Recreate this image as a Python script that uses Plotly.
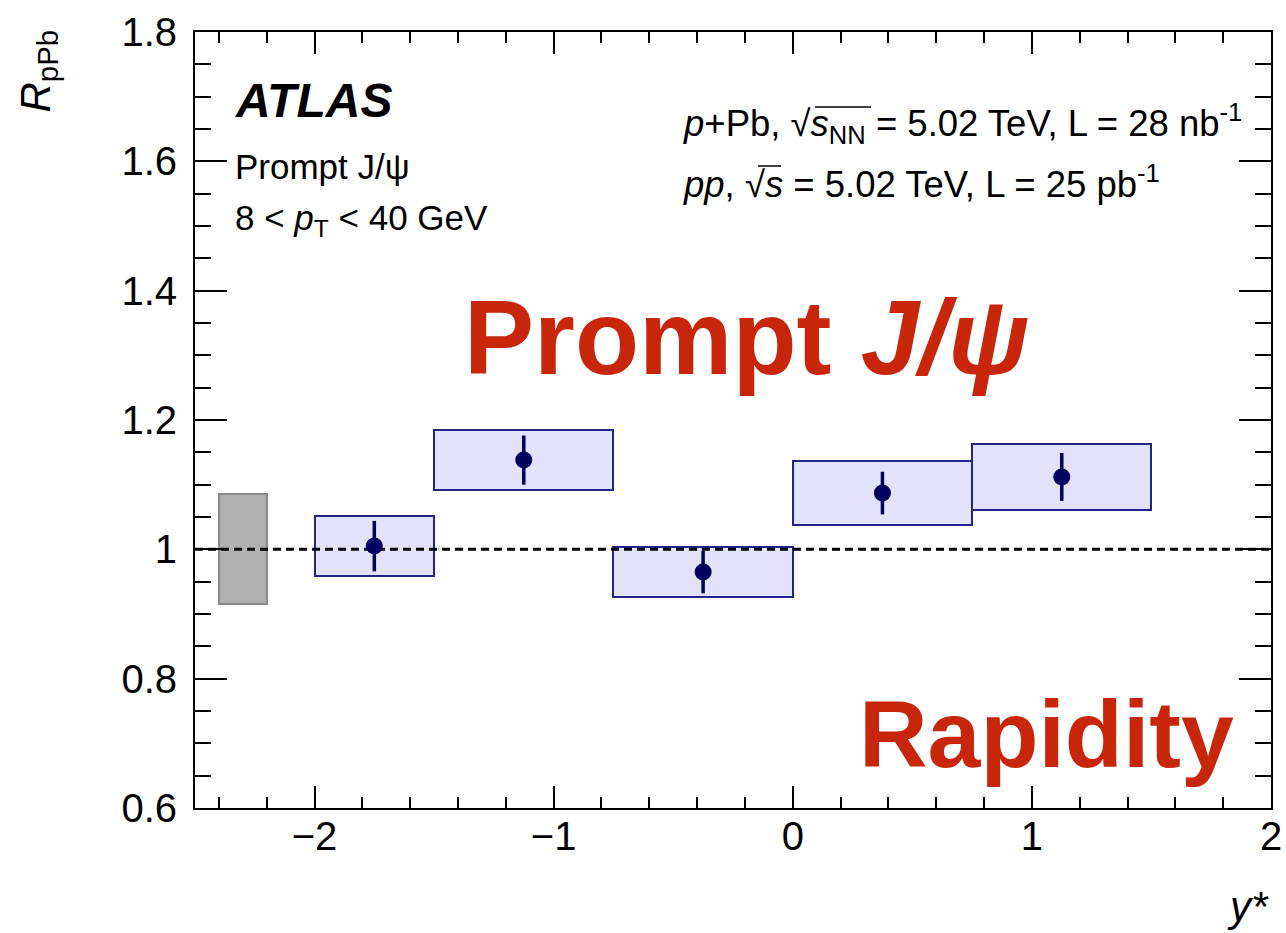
import plotly.graph_objects as go

# R_pPb of prompt J/psi versus centre-of-mass rapidity y*, 8 < pT < 40 GeV
bin_lo = [-2.0, -1.5, -0.75, 0.0, 0.75]
bin_hi = [-1.5, -0.75, 0.0, 0.75, 1.5]
r_ppb = [1.005, 1.138, 0.965, 1.087, 1.112]
stat_err = [0.039, 0.038, 0.033, 0.033, 0.037]
syst_err = [0.046, 0.046, 0.038, 0.050, 0.051]
global_unc = 0.085          # normalisation uncertainty, shown as grey band at unity

FONT = "Liberation Sans, Arial, Helvetica, sans-serif"
NAVY = "#00005e"
BOX_LINE = "#23238a"
BOX_FILL = "#e2e2fb"
RED = "#c8260b"

W, H = 1286, 933
L, R, T, B = 195, 15, 32, 125
PW, PH = W - L - R, H - T - B


def xp(px):
    return (px - L) / PW


def yp(py):
    return (H - B - py) / PH


centers = [(a + b) / 2 for a, b in zip(bin_lo, bin_hi)]
widths = [b - a for a, b in zip(bin_lo, bin_hi)]
box_base = [v - s for v, s in zip(r_ppb, syst_err)]
box_height = [2 * s for s in syst_err]

fig = go.Figure()

# global normalisation uncertainty
fig.add_trace(go.Bar(
    x=[-2.3], width=[0.2], base=[1 - global_unc], y=[2 * global_unc],
    marker=dict(color="#b0b0b0", line=dict(color="#8a8a8a", width=2)),
    showlegend=False, hoverinfo="skip",
))

# systematic uncertainty boxes
fig.add_trace(go.Bar(
    x=centers, width=widths, base=box_base, y=box_height,
    marker=dict(color=BOX_FILL, line=dict(color=BOX_LINE, width=2)),
    showlegend=False, hoverinfo="skip",
))

# unity reference line
fig.add_trace(go.Scatter(
    x=[-2.5, 2.0], y=[1.0, 1.0], mode="lines",
    line=dict(color="black", width=3, dash="8px,5px"),
    showlegend=False, hoverinfo="skip",
))

# data points with statistical errors
fig.add_trace(go.Scatter(
    x=centers, y=r_ppb, mode="markers",
    marker=dict(color=NAVY, size=17),
    error_y=dict(type="data", array=stat_err, thickness=3.5, width=0, color=NAVY),
    showlegend=False,
))

axis_common = dict(
    showgrid=False, zeroline=False, showline=True, linecolor="black", linewidth=2,
    mirror="allticks", ticks="inside", tickcolor="black", tickwidth=2,
    tickfont=dict(family=FONT, size=40, color="black"), automargin=False,
)

fig.update_xaxes(
    range=[-2.5, 2.0], ticklen=22,
    tickvals=[-2, -1, 0, 1, 2], ticktext=["\u22122", "\u22121", "0", "1", "2"],
    minor=dict(dtick=0.2, tick0=0, ticklen=11, ticks="inside", tickcolor="black", tickwidth=2),
    ticklabelstandoff=-8,
    **axis_common,
)
fig.update_yaxes(
    range=[0.6, 1.8], ticklen=32,
    tickvals=[0.6, 0.8, 1.0, 1.2, 1.4, 1.6, 1.8],
    ticktext=["0.6", "0.8", "1", "1.2", "1.4", "1.6", "1.8"],
    minor=dict(dtick=0.05, tick0=0, ticklen=16, ticks="inside", tickcolor="black", tickwidth=2),
    ticklabelstandoff=8,
    **axis_common,
)


def note(text, px, py, size, xanchor="left", color="black", angle=0, yanchor="middle"):
    fig.add_annotation(
        text=text, x=xp(px), y=yp(py), xref="paper", yref="paper",
        xanchor=xanchor, yanchor=yanchor, showarrow=False, textangle=angle,
        font=dict(family=FONT, size=size, color=color),
    )


def vinculum(x0, x1, py):
    # bar over the radicand of a square-root sign
    fig.add_shape(type="line", xref="paper", yref="paper",
                  x0=xp(x0), x1=xp(x1), y0=yp(py), y1=yp(py),
                  line=dict(color="black", width=1.5))


# axis titles
note("<i>R</i><sub>pPb</sub>", 38, 28, 42, xanchor="center", angle=-90, yanchor="top")
note("<i>y*</i>", 1271, 906, 42, xanchor="right")

# labels
note("<b><i>ATLAS</i></b>", 233, 100, 48)
note("Prompt J/\u03c8", 233, 166, 35)
note("8 < <i>p</i><sub>T</sub> < 40 GeV", 233, 220, 35)
note("<i>p</i>+Pb, \u221a<i>s</i><sub>NN</sub> = 5.02 TeV, L = 28 nb<sup>-1</sup>", 681, 123, 36.5)
note("<i>pp</i>, \u221a<i>s</i> = 5.02 TeV, L = 25 pb<sup>-1</sup>", 681, 182, 36.5)
vinculum(815, 871, 107)
vinculum(758, 781, 166)

note("<b>Prompt <i>J/\u03c8</i></b>", 462, 337, 105, color=RED)
note("<b>Rapidity</b>", 1236, 734, 95, xanchor="right", color=RED)

fig.update_layout(
    width=W, height=H, margin=dict(l=L, r=R, t=T, b=B, pad=0),
    paper_bgcolor="white", plot_bgcolor="white",
    barmode="overlay", bargap=0, showlegend=False,
    font=dict(family=FONT, color="black"),
)

fig.write_html("out.html")
